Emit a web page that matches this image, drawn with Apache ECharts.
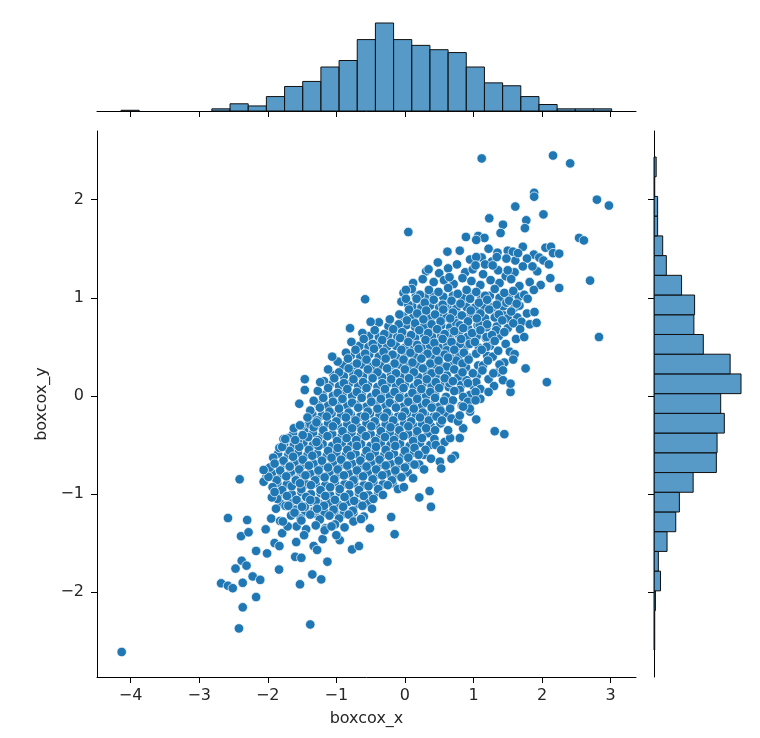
<!DOCTYPE html>
<html>
<head>
<meta charset="utf-8">
<script src="https://cdn.jsdelivr.net/npm/echarts@6/dist/echarts.min.js"></script>
<style>
html, body { margin: 0; padding: 0; background: #fff; }
#chart { width: 760px; height: 738px; }
</style>
</head>
<body>
<div id="chart"></div>
<script>
// axis ranges and ticks
var xMin = -4.49, xMax = 3.37;
var yMin = -2.865, yMax = 2.70;
var xTicks = [-4, -3, -2, -1, 0, 1, 2, 3];
var yTicks = [-2, -1, 0, 1, 2];

// marginal histogram counts (top: boxcox_x, right: boxcox_y from bottom up)
var xHistStart = -4.14, xHistWidth = 0.265;
var xHistCounts = [1, 0, 0, 0, 0, 3, 10, 7, 20, 34, 41, 61, 70, 99, 122, 99, 91, 85, 81, 61, 39, 35, 20, 9, 3, 3, 3];
var yHistStart = -2.59, yHistWidth = 0.201;
var yHistCounts = [1, 1, 2, 9, 6, 18, 30, 35, 54, 86, 87, 97, 92, 120, 105, 68, 55, 56, 38, 17, 12, 5, 5, 1, 3];

// scattered points around the edge of the cloud
var edgePoints = [
  [1.12,2.42],[2.16,2.45],[2.41,2.37],[1.885,2.07],[1.885,2.03],[2.80,2.00],[2.975,1.94],[1.61,1.93],
  [2.02,1.85],[1.23,1.81],[1.77,1.79],[1.43,1.745],[1.75,1.71],[1.395,1.66],[0.05,1.67],[0.89,1.62],
  [1.07,1.63],[1.16,1.61],[1.04,1.59],[2.54,1.61],[2.61,1.585],[0.80,1.48],[1.50,1.48],[1.575,1.47],
  [1.65,1.455],[2.05,1.51],[2.13,1.52],[2.16,1.455],[2.25,1.45],[1.96,1.41],[2.02,1.38],[1.04,1.415],
  [1.34,1.415],[1.48,1.40],[0.345,1.29],[0.76,1.34],[1.03,1.33],[1.17,1.34],[1.28,1.33],[1.72,1.32],
  [1.86,1.32],[2.10,1.34],[1.50,1.28],[0.65,1.21],[2.12,1.20],[2.70,1.175],[2.25,1.10],[2.83,0.60],
  [-0.58,0.985],[-0.50,0.755],[-1.06,0.40],[1.76,0.28],[1.31,-0.36],[1.45,-0.39],[1.22,0.04],[1.54,0.04],
  [0.73,-0.61],[0.51,-0.67],[0.015,1.08],[0.015,0.99],
  [-1.46,0.17],[-1.46,0.06],[-1.54,-0.08],[-1.51,-0.305],[-1.49,-0.40],[-1.60,-0.45],[-1.77,-0.44],
  [-1.79,-0.52],[-1.29,-0.27],[-1.29,-0.47],[-1.235,0.14],
  [-2.41,-0.85],[-2.58,-1.245],[-2.30,-1.265],[-2.39,-1.43],[-2.28,-1.39],[-2.03,-1.36],[-1.95,-1.25],
  [-1.82,-1.275],[-2.17,-1.58],[-2.01,-1.605],[-1.90,-1.50],[-1.83,-1.53],[-2.38,-1.68],[-2.47,-1.76],
  [-2.31,-1.73],[-2.68,-1.91],[-2.58,-1.935],[-2.51,-1.96],[-2.365,-1.905],[-2.22,-1.84],[-2.11,-1.875],
  [-2.17,-2.05],[-2.365,-2.155],[-2.42,-2.37],[-1.38,-2.33],[-1.835,-1.77],[-1.53,-1.92],[-1.35,-1.82],
  [-1.22,-1.87],[-1.60,-1.64],[-1.51,-1.65],[-1.13,-1.69],[-1.585,-1.49],[-1.79,-1.40],[-1.33,-1.53],
  [-1.28,-1.57],[-0.77,-1.565],[-0.67,-1.53],[-0.51,-1.35],[-0.20,-1.235],[-0.15,-1.41],[0.21,-1.035],
  [0.36,-0.97],[0.38,-1.13],[-0.015,-0.93],[0.53,-0.74],[-1.17,-1.37],[-1.07,-1.33],[-1.00,-1.42],
  [-0.75,-1.28],[-0.64,-1.255],[-1.71,-1.33],[-1.78,-1.28],[-1.51,-1.27],[-1.94,-1.035],[-1.90,-0.98],
  [-2.06,-0.875],[-1.99,-0.825],[-2.06,-0.755],[-1.90,-0.69],[-1.745,-0.44],[-1.53,-0.30],[-1.68,-0.72],
  [-1.59,-0.86],[-1.53,-0.89],[-1.70,-1.12],[-1.61,-1.19],[-1.50,-1.13],[-1.38,-1.06],[-1.28,-1.15],
  [-4.13,-2.61],
  [2.07,0.14],[0.68,-0.64],[1.04,-0.24],[0.80,-0.43],[0.66,-0.43],[0.85,-0.33],[0.63,-0.35],[0.775,-0.26],
  [0.54,-0.25],[0.53,-0.55],[1.89,0.855],[1.92,0.745],[1.62,0.58],[1.74,0.60],[1.53,0.45],[1.60,0.425],
  [1.58,0.37],[1.38,0.32],[1.43,0.26],[1.29,0.23],[1.43,0.16],[1.54,0.125],[1.03,0.04],[0.945,-0.13],
  [1.03,-0.045],[0.85,-0.11],[0.80,-0.20]
];

// the dense middle of the cloud
var corePoints = [
  [1.67,0.92],[1.48,0.95],[1.28,0.905],[1.31,0.80],[1.50,0.79],[1.70,0.755],[1.33,0.67],[1.19,0.60],
  [1.09,0.72],[0.99,0.82],[0.90,0.905],[1.19,0.50],[1.04,0.43],[1.28,0.40],[1.14,0.31],[0.99,0.23],
  [0.90,0.16],[0.80,0.06],[1.04,0.14],[0.70,-0.045],[0.65,0.13],[0.85,-0.01],[0.61,0.30],[0.75,0.36],
  [0.61,0.465],[0.80,0.53],[0.945,0.53],[0.65,0.635],[0.61,0.80],[0.75,0.74],[0.58,0.92],
  [0.62,1.47],[1.22,1.5],[1.35,1.46],[1.72,1.52],[1.88,1.44],
  [0.48,1.36],[0.95,1.39],[1.12,1.41],[1.27,1.37],[1.61,1.38],[1.78,1.40],
  [0.31,1.27],[0.5,1.25],[0.63,1.3],[0.88,1.26],[0.99,1.29],[1.14,1.24],[1.36,1.28],[1.47,1.22],[1.6,1.26],[1.93,1.27],
  [0.12,1.15],[0.26,1.19],[0.42,1.16],[0.57,1.18],[0.71,1.14],[0.84,1.2],[0.97,1.17],[1.1,1.13],[1.25,1.18],
  [1.38,1.15],[1.55,1.19],[1.67,1.12],[1.82,1.16],[1.98,1.13],
  [-0.02,1.05],[0.1,1.09],[0.22,1.03],[0.35,1.08],[0.49,1.06],[0.63,1.1],[0.77,1.04],[0.9,1.08],[1.04,1.06],
  [1.17,1.02],[1.31,1.09],[1.45,1.05],[1.58,1.07],[1.74,1.03],[1.88,1.08],
  [-0.05,0.96],[0.05,0.93],[0.17,0.99],[0.29,0.95],[0.42,0.98],[0.55,0.93],[0.68,0.97],[0.81,0.94],[0.95,0.99],
  [1.08,0.95],[1.2,0.98],[1.34,0.93],[1.52,0.97],[1.63,0.94],[1.79,0.99],
  [-0.08,0.83],[0.06,0.88],[0.18,0.84],[0.31,0.87],[0.44,0.83],[0.56,0.88],[0.7,0.85],[0.83,0.82],[0.96,0.87],
  [1.1,0.84],[1.23,0.88],[1.37,0.83],[1.55,0.86],[1.78,0.84],
  [-0.38,0.75],[-0.22,0.78],[-0.09,0.73],[0.03,0.77],[0.15,0.74],[0.27,0.78],[0.39,0.73],[0.52,0.76],[0.66,0.79],
  [0.8,0.72],[0.92,0.76],[1.05,0.79],[1.2,0.73],[1.42,0.77],[1.58,0.74],[1.82,0.73],
  [-0.8,0.69],[-0.62,0.64],[-0.44,0.67],[-0.3,0.63],[-0.17,0.68],[-0.04,0.65],[0.09,0.62],[0.21,0.67],[0.34,0.64],
  [0.47,0.68],[0.58,0.63],[0.72,0.66],[0.85,0.69],[0.98,0.64],[1.1,0.67],[1.27,0.62],[1.45,0.65],[1.68,0.68],
  [-0.78,0.55],[-0.6,0.58],[-0.47,0.53],[-0.33,0.57],[-0.2,0.54],[-0.07,0.59],[0.05,0.55],[0.18,0.52],[0.3,0.57],
  [0.43,0.54],[0.55,0.58],[0.68,0.55],[0.82,0.58],[1.02,0.55],[1.31,0.56],[1.47,0.53],
  [-0.86,0.44],[-0.72,0.47],[-0.58,0.43],[-0.45,0.48],[-0.31,0.45],[-0.18,0.42],[-0.05,0.47],[0.08,0.44],[0.2,0.48],
  [0.33,0.43],[0.46,0.46],[0.58,0.42],[0.72,0.47],[0.86,0.44],[1.12,0.47],[1.36,0.46],
  [-0.98,0.35],[-0.83,0.38],[-0.7,0.33],[-0.56,0.37],[-0.42,0.34],[-0.28,0.38],[-0.15,0.33],[-0.02,0.37],[0.11,0.34],
  [0.24,0.38],[0.37,0.33],[0.49,0.36],[0.63,0.39],[0.84,0.33],[0.93,0.37],[1.21,0.36],[1.45,0.34],
  [-1.12,0.27],[-0.96,0.24],[-0.82,0.28],[-0.68,0.23],[-0.54,0.27],[-0.4,0.24],[-0.26,0.28],[-0.13,0.23],[0.0,0.27],
  [0.13,0.24],[0.26,0.28],[0.39,0.23],[0.5,0.26],[0.72,0.27],[0.84,0.24],[1.13,0.26],[1.36,0.24],
  [-1.18,0.15],[-1.03,0.18],[-0.89,0.13],[-0.75,0.17],[-0.61,0.14],[-0.47,0.18],[-0.33,0.13],[-0.2,0.17],[-0.07,0.14],
  [0.06,0.18],[0.19,0.13],[0.32,0.17],[0.45,0.14],[0.58,0.18],[0.7,0.15],[0.92,0.13],[1.22,0.17],[1.3,0.1],
  [-1.27,0.05],[-1.12,0.08],[-0.98,0.03],[-0.84,0.07],[-0.7,0.04],[-0.56,0.08],[-0.42,0.03],[-0.29,0.07],[-0.15,0.04],
  [-0.02,0.08],[0.11,0.03],[0.24,0.07],[0.37,0.04],[0.5,0.08],[0.72,0.05],[1.1,0.07],
  [-1.33,-0.05],[-1.19,-0.02],[-1.05,-0.06],[-0.91,-0.03],[-0.77,-0.07],[-0.63,-0.02],[-0.49,-0.06],[-0.35,-0.03],
  [-0.22,-0.07],[-0.08,-0.02],[0.05,-0.06],[0.18,-0.03],[0.31,-0.07],[0.44,-0.02],[0.57,-0.05],[0.92,-0.06],[1.1,-0.03],
  [-1.38,-0.15],[-1.24,-0.12],[-1.1,-0.16],[-0.96,-0.13],[-0.82,-0.17],[-0.68,-0.12],[-0.54,-0.16],[-0.4,-0.13],
  [-0.26,-0.17],[-0.13,-0.12],[0.0,-0.16],[0.13,-0.13],[0.26,-0.17],[0.39,-0.12],[0.52,-0.15],[0.66,-0.13],[0.95,-0.16],
  [-1.42,-0.22],[-1.28,-0.25],[-1.14,-0.21],[-1.0,-0.26],[-0.86,-0.22],[-0.72,-0.25],[-0.58,-0.21],[-0.44,-0.26],
  [-0.3,-0.22],[-0.17,-0.25],[-0.04,-0.21],[0.09,-0.26],[0.22,-0.22],[0.35,-0.25],[0.46,-0.21],[0.68,-0.23],
  [-1.62,-0.33],[-1.47,-0.36],[-1.33,-0.32],[-1.19,-0.35],[-1.05,-0.31],[-0.91,-0.36],[-0.77,-0.33],[-0.63,-0.35],
  [-0.49,-0.31],[-0.35,-0.36],[-0.21,-0.32],[-0.08,-0.35],[0.05,-0.31],[0.18,-0.36],[0.31,-0.33],[0.44,-0.35],
  [-1.7,-0.43],[-1.56,-0.46],[-1.41,-0.42],[-1.27,-0.45],[-1.13,-0.41],[-0.99,-0.46],[-0.85,-0.43],[-0.71,-0.45],
  [-0.57,-0.41],[-0.43,-0.46],[-0.29,-0.42],[-0.16,-0.45],[-0.02,-0.41],[0.12,-0.46],[0.25,-0.43],[0.43,-0.44],[0.58,-0.47],
  [-1.83,-0.53],[-1.68,-0.56],[-1.54,-0.52],[-1.4,-0.55],[-1.26,-0.51],[-1.12,-0.56],[-0.98,-0.53],[-0.84,-0.55],
  [-0.7,-0.51],[-0.56,-0.56],[-0.42,-0.52],[-0.28,-0.55],[-0.14,-0.51],[0.0,-0.56],[0.14,-0.53],[0.3,-0.55],[0.45,-0.5],
  [-1.92,-0.63],[-1.77,-0.66],[-1.63,-0.62],[-1.49,-0.65],[-1.35,-0.61],[-1.21,-0.66],[-1.07,-0.63],[-0.93,-0.65],
  [-0.79,-0.61],[-0.65,-0.66],[-0.51,-0.62],[-0.37,-0.65],[-0.23,-0.61],[-0.09,-0.66],[0.05,-0.63],[0.2,-0.6],[0.38,-0.64],
  [-1.97,-0.73],[-1.82,-0.76],[-1.68,-0.72],[-1.54,-0.75],[-1.4,-0.71],[-1.26,-0.76],[-1.12,-0.73],[-0.98,-0.75],
  [-0.84,-0.71],[-0.7,-0.76],[-0.56,-0.72],[-0.42,-0.75],[-0.28,-0.71],[-0.14,-0.76],[0.0,-0.73],[0.14,-0.7],[0.28,-0.75],
  [-2.02,-0.83],[-1.87,-0.86],[-1.73,-0.82],[-1.59,-0.85],[-1.45,-0.81],[-1.31,-0.86],[-1.17,-0.83],[-1.03,-0.85],
  [-0.89,-0.81],[-0.75,-0.86],[-0.61,-0.82],[-0.47,-0.85],[-0.33,-0.81],[-0.19,-0.86],[-0.05,-0.83],[0.12,-0.84],
  [-1.93,-0.93],[-1.79,-0.96],[-1.65,-0.92],[-1.51,-0.95],[-1.37,-0.91],[-1.23,-0.96],[-1.09,-0.93],[-0.95,-0.95],
  [-0.81,-0.91],[-0.67,-0.96],[-0.53,-0.92],[-0.39,-0.95],[-0.25,-0.91],[-0.1,-0.95],
  [-1.86,-1.05],[-1.72,-1.02],[-1.58,-1.06],[-1.44,-1.03],[-1.3,-1.07],[-1.16,-1.02],[-1.02,-1.06],[-0.88,-1.03],
  [-0.74,-1.07],[-0.6,-1.02],[-0.46,-1.05],[-0.32,-1.01],
  [-1.88,-1.15],[-1.74,-1.12],[-1.6,-1.16],[-1.46,-1.13],[-1.32,-1.17],[-1.18,-1.12],[-1.04,-1.16],[-0.9,-1.13],
  [-0.76,-1.17],[-0.62,-1.12],[-0.48,-1.15],
  [-1.66,-1.22],[-1.52,-1.25],[-1.38,-1.21],[-1.24,-1.26],[-1.1,-1.22],[-0.96,-1.25],[-0.82,-1.21],[-0.6,-1.23],
  [-1.58,-1.33],[-1.44,-1.36],[-1.3,-1.32],[-1.16,-1.35],[-1.02,-1.31],[-0.88,-1.34],
  [-1.47,-1.42],[-1.2,-1.46],[-0.95,-1.47]
];

// points lying between the rows above, where the cloud is thickest
var fillPoints = [
  [0.16,1.02],[0.29,1.01],[0.42,1.03],[0.56,1.01],[0.7,1.02],[0.84,1.0],[0.97,1.03],[1.11,1.01],[1.24,1.02],[1.38,1.0],[1.52,1.02],[1.66,1.01],
  [0.11,0.91],[0.24,0.9],[0.37,0.92],[0.5,0.9],[0.62,0.91],[0.75,0.89],[0.89,0.92],[1.02,0.9],[1.16,0.91],[1.29,0.89],[1.43,0.91],[1.6,0.9],
  [-0.02,0.81],[0.12,0.8],[0.25,0.82],[0.38,0.8],[0.5,0.81],[0.64,0.79],[0.77,0.82],[0.9,0.8],[1.04,0.81],[1.17,0.79],[1.44,0.82],[1.64,0.8],
  [-0.24,0.71],[-0.11,0.7],[0.02,0.72],[0.15,0.7],[0.28,0.71],[0.41,0.69],[0.53,0.72],[0.66,0.7],[0.79,0.71],[0.92,0.69],[1.06,0.72],[1.19,0.7],[1.34,0.71],[1.5,0.69],
  [-0.52,0.61],[-0.38,0.6],[-0.24,0.62],[-0.11,0.6],[0.02,0.61],[0.15,0.59],[0.28,0.62],[0.4,0.6],[0.53,0.61],[0.66,0.59],[0.79,0.62],[0.91,0.6],[1.05,0.61],[1.18,0.59],[1.37,0.61],
  [-0.66,0.51],[-0.53,0.5],[-0.39,0.52],[-0.26,0.5],[-0.13,0.51],[0.0,0.49],[0.12,0.52],[0.25,0.5],[0.37,0.51],[0.5,0.49],[0.62,0.52],[0.76,0.5],[0.89,0.51],[1.08,0.49],[1.24,0.51],
  [-0.79,0.41],[-0.65,0.4],[-0.52,0.42],[-0.38,0.4],[-0.25,0.41],[-0.12,0.39],[0.01,0.42],[0.14,0.4],[0.27,0.41],[0.4,0.39],[0.52,0.42],[0.66,0.4],[0.79,0.41],[0.93,0.39],[1.2,0.41],
  [-0.9,0.31],[-0.76,0.3],[-0.63,0.32],[-0.49,0.3],[-0.35,0.31],[-0.22,0.29],[-0.08,0.32],[0.05,0.3],[0.18,0.31],[0.31,0.29],[0.43,0.32],[0.56,0.3],[0.7,0.31],[0.89,0.29],[1.07,0.31],
  [-1.04,0.21],[-0.89,0.2],[-0.75,0.22],[-0.61,0.2],[-0.47,0.21],[-0.33,0.19],[-0.2,0.22],[-0.06,0.2],[0.07,0.21],[0.2,0.19],[0.33,0.22],[0.45,0.2],[0.61,0.21],[0.78,0.19],[1.05,0.21],
  [-1.1,0.11],[-0.96,0.1],[-0.82,0.12],[-0.68,0.1],[-0.54,0.11],[-0.4,0.09],[-0.26,0.12],[-0.13,0.1],[0.0,0.11],[0.13,0.09],[0.26,0.12],[0.39,0.1],[0.52,0.11],[0.64,0.09],[0.82,0.11],[1.0,0.1],
  [-1.2,0.01],[-1.05,0.0],[-0.91,0.02],[-0.77,0.0],[-0.63,0.01],[-0.49,-0.01],[-0.35,0.02],[-0.22,0.0],[-0.08,0.01],[0.05,-0.01],[0.18,0.02],[0.31,0.0],[0.44,0.01],[0.6,-0.01],[0.95,0.01],
  [-1.26,-0.09],[-1.12,-0.1],[-0.98,-0.08],[-0.84,-0.1],[-0.7,-0.09],[-0.56,-0.11],[-0.42,-0.08],[-0.28,-0.1],[-0.15,-0.09],[-0.02,-0.11],[0.12,-0.08],[0.25,-0.1],[0.38,-0.09],[0.5,-0.11],[0.66,-0.08],[0.83,-0.1],
  [-1.35,-0.19],[-1.21,-0.2],[-1.07,-0.18],[-0.93,-0.2],[-0.79,-0.19],[-0.65,-0.21],[-0.51,-0.18],[-0.37,-0.2],[-0.24,-0.19],[-0.1,-0.21],[0.03,-0.18],[0.16,-0.2],[0.29,-0.19],[0.42,-0.21],[0.6,-0.18],
  [-1.4,-0.29],[-1.26,-0.3],[-1.12,-0.28],[-0.98,-0.3],[-0.84,-0.29],[-0.7,-0.31],[-0.56,-0.28],[-0.42,-0.3],[-0.28,-0.29],[-0.14,-0.31],[-0.01,-0.28],[0.12,-0.3],[0.25,-0.29],[0.38,-0.31],[0.52,-0.28],
  [-1.63,-0.39],[-1.49,-0.4],[-1.34,-0.38],[-1.2,-0.4],[-1.06,-0.39],[-0.92,-0.41],[-0.78,-0.38],[-0.64,-0.4],[-0.5,-0.39],[-0.36,-0.41],[-0.22,-0.38],[-0.09,-0.4],[0.05,-0.39],[0.18,-0.41],[0.34,-0.38],
  [-1.76,-0.49],[-1.62,-0.5],[-1.48,-0.48],[-1.34,-0.5],[-1.2,-0.49],[-1.06,-0.51],[-0.92,-0.48],[-0.78,-0.5],[-0.64,-0.49],[-0.5,-0.51],[-0.35,-0.48],[-0.21,-0.5],[-0.07,-0.49],[0.07,-0.51],[0.22,-0.48],[0.37,-0.5],
  [-1.85,-0.59],[-1.7,-0.6],[-1.56,-0.58],[-1.42,-0.6],[-1.28,-0.59],[-1.14,-0.61],[-1.0,-0.58],[-0.86,-0.6],[-0.72,-0.59],[-0.58,-0.61],[-0.44,-0.58],[-0.3,-0.6],[-0.16,-0.59],[-0.02,-0.61],[0.12,-0.58],[0.28,-0.6],
  [-1.9,-0.69],[-1.75,-0.7],[-1.61,-0.68],[-1.47,-0.7],[-1.33,-0.69],[-1.19,-0.71],[-1.05,-0.68],[-0.91,-0.7],[-0.77,-0.69],[-0.63,-0.71],[-0.49,-0.68],[-0.35,-0.7],[-0.21,-0.69],[-0.07,-0.71],[0.07,-0.68],[0.21,-0.7],
  [-1.94,-0.79],[-1.8,-0.8],[-1.66,-0.78],[-1.52,-0.8],[-1.38,-0.79],[-1.24,-0.81],[-1.1,-0.78],[-0.96,-0.8],[-0.82,-0.79],[-0.68,-0.81],[-0.54,-0.78],[-0.4,-0.8],[-0.26,-0.79],[-0.12,-0.81],[0.04,-0.78],
  [-1.86,-0.89],[-1.72,-0.9],[-1.58,-0.88],[-1.44,-0.9],[-1.3,-0.89],[-1.16,-0.91],[-1.02,-0.88],[-0.88,-0.9],[-0.74,-0.89],[-0.6,-0.91],[-0.46,-0.88],[-0.32,-0.9],[-0.18,-0.89],
  [-1.79,-0.99],[-1.65,-1.0],[-1.51,-0.98],[-1.37,-1.0],[-1.23,-0.99],[-1.09,-1.01],[-0.95,-0.98],[-0.81,-1.0],[-0.67,-0.99],[-0.53,-1.01],[-0.39,-0.98],
  [-1.81,-1.1],[-1.67,-1.09],[-1.53,-1.11],[-1.39,-1.08],[-1.25,-1.1],[-1.11,-1.09],[-0.97,-1.11],[-0.83,-1.08],[-0.69,-1.1],[-0.55,-1.09],
  [-1.59,-1.19],[-1.45,-1.18],[-1.31,-1.2],[-1.17,-1.19],[-1.03,-1.18],[-0.89,-1.2],[-0.75,-1.19]
];

var textColor = '#262626';
var fontFam = 'DejaVu Sans';
var barFill = 'rgba(31,119,180,0.75)';

function minusSign(v) {
  return String(v).replace('-', '\u2212');
}

function histTop(params, api) {
  var c = api.value(2);
  if (!c) return;
  var a = api.coord([api.value(0), c]);
  var b = api.coord([api.value(1), 0]);
  return {
    type: 'rect',
    shape: { x: a[0], y: a[1], width: b[0] - a[0], height: b[1] - a[1] },
    style: { fill: barFill, stroke: '#111', lineWidth: 1 }
  };
}

function histRight(params, api) {
  var c = api.value(2);
  if (!c) return;
  var a = api.coord([0, api.value(1)]);
  var b = api.coord([c, api.value(0)]);
  return {
    type: 'rect',
    shape: { x: a[0], y: a[1], width: b[0] - a[0], height: b[1] - a[1] },
    style: { fill: barFill, stroke: '#111', lineWidth: 1 }
  };
}

var topData = xHistCounts.map(function (c, i) {
  return [xHistStart + i * xHistWidth, xHistStart + (i + 1) * xHistWidth, c];
});
var rightData = yHistCounts.map(function (c, i) {
  return [yHistStart + i * yHistWidth, yHistStart + (i + 1) * yHistWidth, c];
});

var axisLine = { show: true, onZero: false, lineStyle: { color: '#000', width: 1 } };

var option = {
  animation: false,
  backgroundColor: '#fff',
  textStyle: { fontFamily: fontFam },
  grid: [
    { left: 97, top: 131, width: 539, height: 546 },
    { left: 97, top: 23, width: 539, height: 88 },
    { left: 654, top: 131, width: 87, height: 546 }
  ],
  xAxis: [
    {
      gridIndex: 0, type: 'value', min: xMin, max: xMax,
      axisLine: axisLine,
      axisTick: { show: true, length: 6, customValues: xTicks, lineStyle: { color: '#000' } },
      axisLabel: { customValues: xTicks, formatter: minusSign, fontSize: 16, color: textColor, margin: 11, fontFamily: fontFam },
      splitLine: { show: false },
      name: 'boxcox_x', nameLocation: 'middle', nameGap: 34,
      nameTextStyle: { fontSize: 16, color: textColor, fontFamily: fontFam }
    },
    {
      gridIndex: 1, type: 'value', min: xMin, max: xMax,
      axisLine: axisLine,
      axisTick: { show: true, length: 6, customValues: xTicks, lineStyle: { color: '#000' } },
      axisLabel: { show: false },
      splitLine: { show: false }
    },
    {
      gridIndex: 2, type: 'value', min: 0, max: 120, show: false
    }
  ],
  yAxis: [
    {
      gridIndex: 0, type: 'value', min: yMin, max: yMax,
      axisLine: axisLine,
      axisTick: { show: true, length: 6, customValues: yTicks, lineStyle: { color: '#000' } },
      axisLabel: { customValues: yTicks, formatter: minusSign, fontSize: 16, color: textColor, margin: 13, fontFamily: fontFam },
      splitLine: { show: false },
      name: 'boxcox_y', nameLocation: 'middle', nameGap: 44,
      nameTextStyle: { fontSize: 16, color: textColor, fontFamily: fontFam }
    },
    {
      gridIndex: 1, type: 'value', min: 0, max: 122, show: false
    },
    {
      gridIndex: 2, type: 'value', min: yMin, max: yMax,
      axisLine: axisLine,
      axisTick: { show: true, length: 6, customValues: yTicks, lineStyle: { color: '#000' } },
      axisLabel: { show: false },
      splitLine: { show: false }
    }
  ],
  series: [
    {
      type: 'scatter', xAxisIndex: 0, yAxisIndex: 0,
      data: fillPoints.concat(corePoints, edgePoints),
      symbolSize: 9.5,
      itemStyle: { color: '#1f77b4', borderColor: '#fff', borderWidth: 0.7, opacity: 1 }
    },
    {
      type: 'custom', xAxisIndex: 1, yAxisIndex: 1, coordinateSystem: 'cartesian2d',
      renderItem: histTop, encode: { x: [0, 1], y: 2 }, data: topData
    },
    {
      type: 'custom', xAxisIndex: 2, yAxisIndex: 2, coordinateSystem: 'cartesian2d',
      renderItem: histRight, encode: { x: 2, y: [0, 1] }, data: rightData
    }
  ]
};

var myChart = echarts.init(document.getElementById('chart'));
myChart.setOption(option);
</script>
</body>
</html>
